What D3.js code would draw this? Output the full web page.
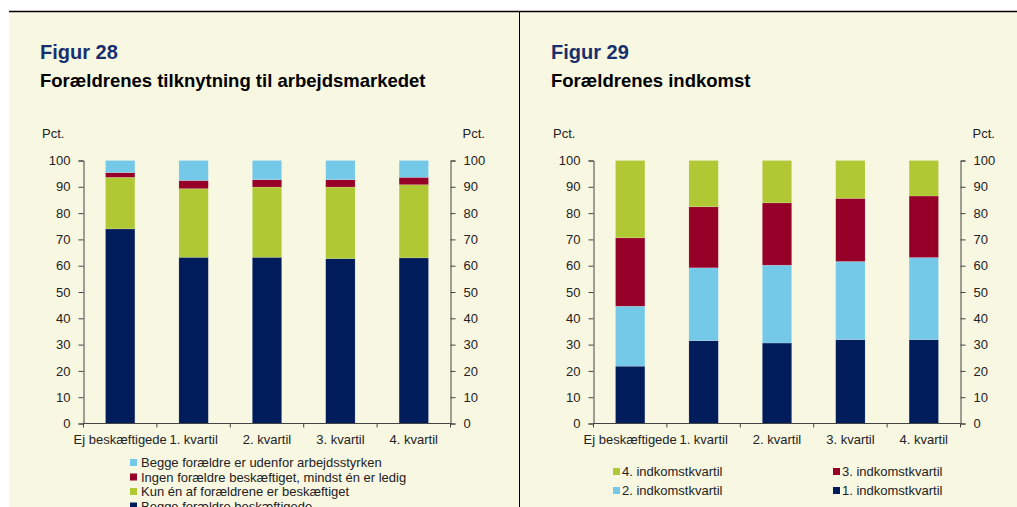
<!DOCTYPE html>
<html>
<head>
<meta charset="utf-8">
<script src="https://cdn.jsdelivr.net/npm/d3@7"></script>
<style>
  body { margin: 0; background: #fff; }
  svg { display: block; font-family: Arial, "Liberation Sans", sans-serif; }
</style>
</head>
<body>
<div id="chart"></div>
<script>
// kategorier (fælles for begge figurer)
const categories = ["Ej beskæftigede", "1. kvartil", "2. kvartil", "3. kvartil", "4. kvartil"]
const yTicks = [0, 10, 20, 30, 40, 50, 60, 70, 80, 90, 100]

// Figur 28 - nederst til øverst
const beggeBeskaeftigede = [74.0, 63.2, 63.2, 62.7, 63.0]
const kunEnBeskaeftiget = [19.6, 26.1, 26.7, 27.2, 27.8]
const ingenMindstEnLedig = [1.8, 3.1, 2.8, 2.8, 2.8]
const beggeUdenfor = [4.6, 7.6, 7.3, 7.3, 6.4]
const fig28Names = ["Begge forældre beskæftigede", "Kun én af forældrene er beskæftiget",
    "Ingen forældre beskæftiget, mindst én er ledig", "Begge forældre er udenfor arbejdsstyrken"]

// Figur 29 - nederst til øverst
const indkomst1 = [21.8, 31.5, 30.6, 31.9, 31.9]
const indkomst2 = [22.8, 27.7, 29.6, 29.7, 31.2]
const indkomst3 = [26.0, 23.2, 23.7, 24.0, 23.4]
const indkomst4 = [29.4, 17.6, 16.1, 14.4, 13.5]
const fig29Names = ["1. indkomstkvartil", "2. indkomstkvartil", "3. indkomstkvartil", "4. indkomstkvartil"]

const colors = ["#011c5b", "#afc834", "#960028", "#74c9e8"]
const colors29 = ["#011c5b", "#74c9e8", "#960028", "#afc834"]

const W = 1017, H = 507

document.addEventListener("DOMContentLoaded", setup)

function setup() {
    const svg = d3.select("#chart").append("svg")
        .attr("width", W)
        .attr("height", H)

    svg.append("rect")
        .attr("x", 9).attr("y", 11)
        .attr("width", W - 9).attr("height", H - 11)
        .attr("fill", "#f8f7e2")
    svg.append("line")
        .attr("x1", 9).attr("x2", W).attr("y1", 11.5).attr("y2", 11.5)
        .attr("stroke", "#000").attr("stroke-width", 1.5)
    svg.append("line")
        .attr("x1", 519.5).attr("x2", 519.5).attr("y1", 11).attr("y2", H)
        .attr("stroke", "#000").attr("stroke-width", 1)

    const fig28 = drawPanel(svg, {
        left: 40, x0: 83.5, x1: 450.5,
        num: "Figur 28",
        title: "Forældrenes tilknytning til arbejdsmarkedet",
        series: [beggeBeskaeftigede, kunEnBeskaeftiget, ingenMindstEnLedig, beggeUdenfor],
        colors: colors
    })
    // legende i én kolonne, øverste serie først
    const leg28 = svg.append("g").attr("transform", "translate(130,0)")
    ;[3, 2, 1, 0].forEach((s, i) => {
        const cy = 462.5 + i * 14.5
        leg28.append("rect").attr("x", 0).attr("y", cy - 3.5).attr("width", 7).attr("height", 7)
            .attr("fill", colors[s])
        leg28.append("text").attr("x", 11).attr("y", cy + 4.5)
            .attr("font-size", 13).attr("fill", "#222").text(fig28Names[s])
    })

    drawPanel(svg, {
        left: 551, x0: 593.5, x1: 960.5,
        num: "Figur 29",
        title: "Forældrenes indkomst",
        series: [indkomst1, indkomst2, indkomst3, indkomst4],
        colors: colors29
    })
    // legende i to kolonner
    const legPos = [[3, 613, 471.5], [2, 833, 471.5], [1, 613, 490.5], [0, 833, 490.5]]
    legPos.forEach(p => {
        const s = p[0]
        svg.append("rect").attr("x", p[1]).attr("y", p[2] - 3.5).attr("width", 7).attr("height", 7)
            .attr("fill", colors29[s])
        svg.append("text").attr("x", p[1] + 9).attr("y", p[2] + 4.5)
            .attr("font-size", 13).attr("fill", "#222").text(fig29Names[s])
    })
}

function drawPanel(svg, o) {
    const g = svg.append("g")

    g.append("text").attr("x", o.left).attr("y", 59)
        .attr("font-size", 20).attr("font-weight", "bold").attr("fill", "#17306d")
        .text(o.num)
    g.append("text").attr("x", o.left).attr("y", 87)
        .attr("font-size", 18.5).attr("font-weight", "bold").attr("fill", "#000")
        .text(o.title)

    const y = d3.scaleLinear().domain([0, 100]).range([423.5, 160.5])
    const x = d3.scaleBand().domain(categories).range([o.x0, o.x1])
        .paddingInner(0.6).paddingOuter(0.3)

    g.append("text").attr("x", o.left + 2).attr("y", 138)
        .attr("font-size", 13).attr("fill", "#222").text("Pct.")
    g.append("text").attr("x", o.x1 + 12).attr("y", 138)
        .attr("font-size", 13).attr("fill", "#222").text("Pct.")

    // stablede søjler
    const rows = categories.map((c, i) => {
        const r = {cat: c}
        o.series.forEach((s, k) => { r["s" + k] = s[i] })
        return r
    })
    const keys = o.series.map((s, k) => "s" + k)
    const stacked = d3.stack().keys(keys)(rows)

    g.append("g").selectAll("g")
        .data(stacked)
        .enter()
        .append("g")
        .attr("fill", (d, k) => o.colors[k])
        .selectAll("rect")
        .data(d => d)
        .enter()
        .append("rect")
        .attr("x", d => x(d.data.cat))
        .attr("width", x.bandwidth())
        .attr("y", d => y(d[1]))
        .attr("height", d => y(d[0]) - y(d[1]))
        .attr("stroke", "rgba(255,255,255,0.25)")
        .attr("stroke-width", 0.6)

    const axL = g.append("g").attr("transform", "translate(" + o.x0 + ",0)")
        .call(d3.axisLeft(y).tickValues(yTicks).tickSize(5).tickPadding(8))
    const axR = g.append("g").attr("transform", "translate(" + o.x1 + ",0)")
        .call(d3.axisRight(y).tickValues(yTicks).tickSize(5).tickPadding(8))

    const axB = g.append("g").attr("transform", "translate(0," + y(0) + ")")
        .call(d3.axisBottom(x).tickSize(0).tickPadding(11))
    axB.select(".domain").remove()

    // skillestreger mellem kategorier
    const bounds = categories.map(c => x(c) + x.bandwidth() / 2 - x.step() / 2)
    bounds.push(o.x1)
    g.append("line")
        .attr("x1", o.x0).attr("x2", o.x1).attr("y1", y(0)).attr("y2", y(0))
        .attr("stroke", "#444")
    g.append("g").selectAll("line")
        .data(bounds)
        .enter()
        .append("line")
        .attr("x1", d => d).attr("x2", d => d)
        .attr("y1", y(0)).attr("y2", y(0) + 4)
        .attr("stroke", "#444")

    ;[axL, axR, axB].forEach(a => {
        a.selectAll(".domain, .tick line").attr("stroke", "#444")
        a.selectAll("text").attr("font-size", 13).attr("fill", "#222")
            .attr("font-family", "Arial, 'Liberation Sans', sans-serif")
    })
    return g
}
</script>
</body>
</html>
